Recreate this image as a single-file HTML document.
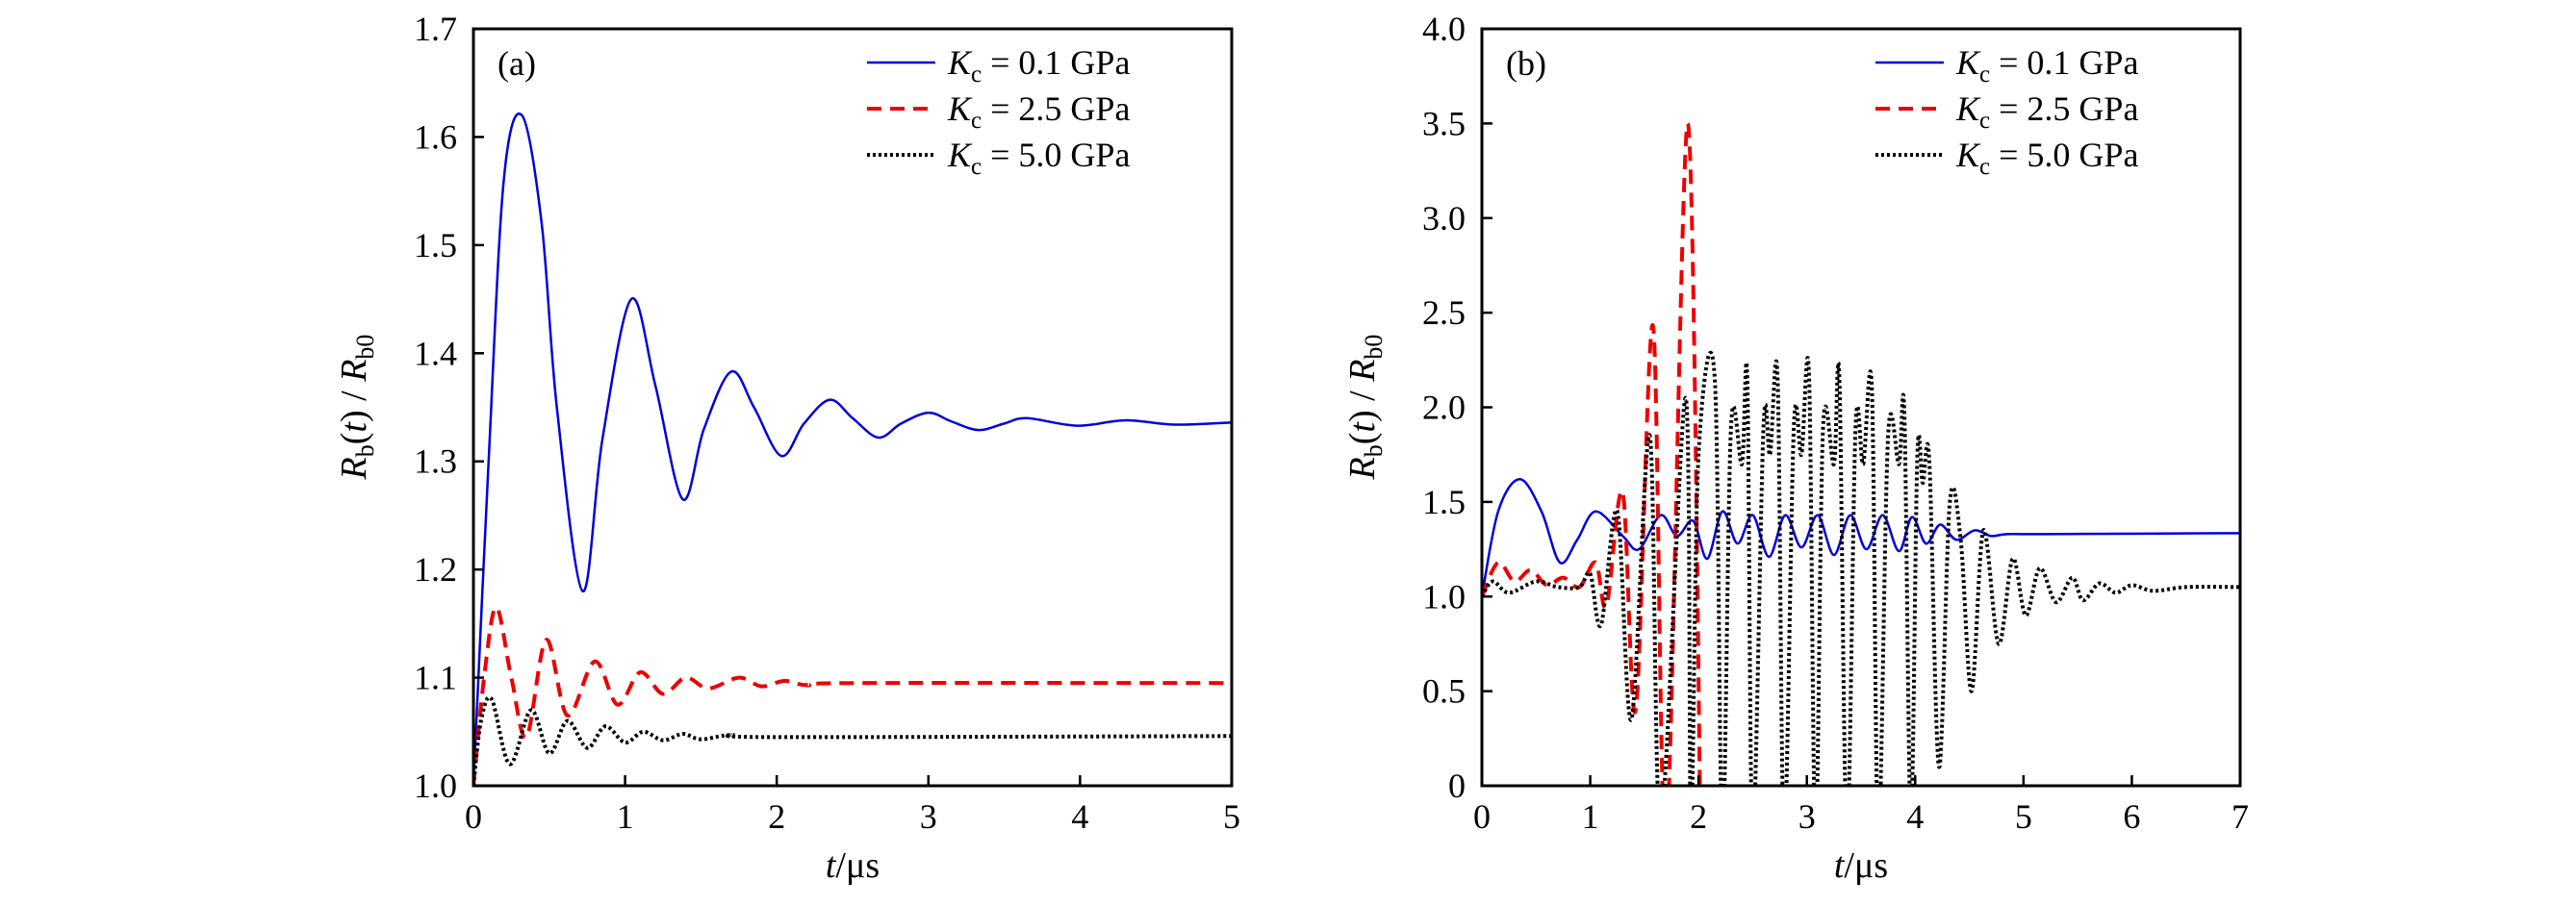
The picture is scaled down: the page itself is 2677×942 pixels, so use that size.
<!DOCTYPE html>
<html>
<head>
<meta charset="utf-8">
<style>
  html,body{margin:0;padding:0;background:#fff;}
  body{width:2677px;height:937px;overflow:hidden;font-family:"Liberation Serif","DejaVu Serif",serif;}
  svg, svg text, svg tspan{font-family:"Liberation Serif","DejaVu Serif",serif !important;}
</style>
</head>
<body>
<svg id="chart" width="2677" height="937" viewBox="0 0 2677 937" font-family="Liberation Serif, DejaVu Serif, serif" xmlns="http://www.w3.org/2000/svg">
  <defs>
    <clipPath id="clipA"><rect x="492" y="30" width="788" height="787"/></clipPath>
    <clipPath id="clipB"><rect x="1540" y="30" width="788" height="787"/></clipPath>
  </defs>
  <g id="panelA"></g>
  <g id="panelB"></g>
</svg>
<script>
// ---------- data: panel (a) ----------
const aXTicks = [0, 1, 2, 3, 4, 5];
const aYTicks = [1.0, 1.1, 1.2, 1.3, 1.4, 1.5, 1.6, 1.7];
const aYTickLabels = ["1.0","1.1","1.2","1.3","1.4","1.5","1.6","1.7"];
const aBlueT = [0,0.1,0.2,0.32,0.45,0.55,0.72,0.85,1.04,1.2,1.38,1.52,1.7,1.85,2.03,2.18,2.35,2.5,2.67,2.82,3.0,3.15,3.33,3.5,3.65,3.98,4.3,4.62,5];
const aBlueY = [1.0,1.3,1.56,1.62,1.52,1.35,1.18,1.32,1.45,1.37,1.265,1.33,1.383,1.35,1.305,1.335,1.357,1.34,1.322,1.335,1.345,1.337,1.329,1.335,1.34,1.333,1.338,1.334,1.336];
const aRedT = [0,0.07,0.15,0.25,0.35,0.48,0.62,0.8,0.95,1.1,1.25,1.4,1.55,1.75,1.9,2.05,2.2,2.5,5];
const aRedY = [1.0,1.1,1.165,1.1,1.045,1.135,1.065,1.115,1.075,1.105,1.085,1.1,1.09,1.1,1.092,1.097,1.093,1.095,1.095];
const aBlackT = [0,0.05,0.12,0.24,0.38,0.5,0.62,0.75,0.87,1.0,1.12,1.25,1.38,1.5,1.7,2.0,5];
const aBlackY = [1.0,1.06,1.08,1.02,1.07,1.03,1.06,1.035,1.055,1.04,1.05,1.042,1.048,1.043,1.047,1.045,1.046];

// ---------- data: panel (b) ----------
const bXTicks = [0, 1, 2, 3, 4, 5, 6, 7];
const bYTicks = [0, 0.5, 1.0, 1.5, 2.0, 2.5, 3.0, 3.5, 4.0];
const bYTickLabels = ["0","0.5","1.0","1.5","2.0","2.5","3.0","3.5","4.0"];
const bBlueT = [0,0.15,0.35,0.55,0.72,0.88,1.05,1.3,1.45,1.65,1.8,1.95,2.08,2.22,2.36,2.5,2.65,2.8,2.95,3.1,3.25,3.4,3.55,3.7,3.85,3.97,4.1,4.23,4.38,4.55,4.7,4.85,5.2,7];
const bBlueY = [1.0,1.45,1.62,1.45,1.18,1.3,1.45,1.32,1.25,1.43,1.32,1.4,1.2,1.45,1.28,1.43,1.21,1.43,1.26,1.43,1.22,1.43,1.25,1.43,1.24,1.42,1.28,1.38,1.3,1.35,1.32,1.33,1.33,1.335];
const bRedT = [0,0.15,0.3,0.45,0.6,0.75,0.9,1.05,1.15,1.3,1.42,1.58,1.7,1.9,2.02];
const bRedY = [1.0,1.18,1.08,1.14,1.06,1.1,1.05,1.18,0.95,1.55,0.4,2.43,-0.3,3.5,-0.3];
const bBlackT = [0,0.1,0.25,0.5,0.7,0.9,1.0,1.1,1.25,1.38,1.55,1.65,1.88,1.93,2.0,2.15,2.22,2.3,2.4,2.45,2.5,2.6,2.66,2.73,2.79,2.88,2.95,3.02,3.08,3.15,3.25,3.3,3.37,3.45,3.52,3.6,3.66,3.75,3.85,3.9,3.96,4.02,4.07,4.13,4.22,4.32,4.42,4.52,4.63,4.77,4.9,5.02,5.15,5.3,5.45,5.55,5.7,5.85,6.0,6.2,6.5,7];
const bBlackY = [1.0,1.08,1.02,1.08,1.05,1.05,1.12,0.85,1.45,0.35,1.85,-0.2,2.05,-0.2,1.75,2.15,-0.3,1.9,1.7,2.15,-0.3,1.9,1.75,2.15,-0.3,1.9,1.75,2.17,-0.3,1.9,1.7,2.15,-0.3,1.9,1.7,2.1,-0.3,1.85,1.7,1.97,-0.2,1.75,1.6,1.72,0.1,1.5,1.3,0.5,1.35,0.75,1.2,0.9,1.15,0.97,1.1,0.98,1.07,1.02,1.06,1.03,1.05,1.05];

const NS = "http://www.w3.org/2000/svg";
const FONT = "Liberation Serif, DejaVu Serif, serif";
function mk(tag, attrs, parent){
  const e = document.createElementNS(NS, tag);
  for (const k in attrs) e.setAttribute(k, attrs[k]);
  parent.appendChild(e);
  return e;
}
function smoothPath(px, py){
  let d = "M" + px[0].toFixed(2) + "," + py[0].toFixed(2);
  for (let i = 0; i < px.length - 1; i++){
    const x0 = px[Math.max(i-1,0)], y0 = py[Math.max(i-1,0)];
    const x1 = px[i], y1 = py[i], x2 = px[i+1], y2 = py[i+1];
    const x3 = px[Math.min(i+2,px.length-1)], y3 = py[Math.min(i+2,px.length-1)];
    const c1x = x1 + (x2-x0)/6, c1y = y1 + (y2-y0)/6;
    const c2x = x2 - (x3-x1)/6, c2y = y2 - (y3-y1)/6;
    d += " C" + c1x.toFixed(2)+","+c1y.toFixed(2)+" "+c2x.toFixed(2)+","+c2y.toFixed(2)+" "+x2.toFixed(2)+","+y2.toFixed(2);
  }
  return d;
}

function drawPanel(g, cfg){
  const L = cfg.left, R = cfg.left + 788, T = 30, B = 817;
  const sx = v => L + (v - cfg.xmin)/(cfg.xmax - cfg.xmin)*(R-L);
  const sy = v => B - (v - cfg.ymin)/(cfg.ymax - cfg.ymin)*(B-T);

  const sg = mk("g", {"clip-path": "url(#" + cfg.clip + ")"}, g);
  
  
  cfg.series.forEach(s => {
    const p = mk("path", {d: smoothPath(s.t.map(sx), s.y.map(sy)), fill:"none", stroke:s.color, "stroke-width":s.w, "stroke-dasharray":s.dash, "stroke-linejoin":"round"}, sg);
    
    
  });

  const fr = mk("rect", {x:L, y:T, width:R-L, height:B-T, fill:"none", stroke:"#000", "stroke-width":3}, g);
  
  

  cfg.xTicks.forEach(v => {
    const x = sx(v);
    const tk = mk("line", {x1:x, x2:x, y1:B, y2:B-11, stroke:"#000", "stroke-width":2.5}, g);
    
    
    const tl = mk("text", {x:x, y:861, "font-size":36, "text-anchor":"middle", "font-family":FONT}, g);
    
    
    tl.textContent = String(v);
  });
  cfg.yTicks.forEach((v, i) => {
    const y = sy(v);
    const tk = mk("line", {x1:L, x2:L+11, y1:y, y2:y, stroke:"#000", "stroke-width":2.5}, g);
    
    
    const tl = mk("text", {x:L-17, y:y+12, "font-size":36, "text-anchor":"end", "font-family":FONT}, g);
    
    
    tl.textContent = cfg.yTickLabels[i];
  });

  const xt = mk("text", {x:(L+R)/2, y:912, "font-size":38, "text-anchor":"middle", "font-family":FONT}, g);
  
  
  xt.innerHTML = '<tspan font-style="italic">t</tspan>/μs';
  const cy = 423, cx = L - 112;
  const yt = mk("text", {x:cx, y:cy, "font-size":38, "text-anchor":"middle", "font-family":FONT, transform:"rotate(-90 "+cx+" "+cy+")"}, g);
  
  
  yt.innerHTML = '<tspan font-style="italic">R</tspan><tspan font-size="26" dy="8">b</tspan><tspan dy="-8">(</tspan><tspan font-style="italic">t</tspan>) / <tspan font-style="italic">R</tspan><tspan font-size="26" dy="8">b0</tspan>';

  const pl = mk("text", {x:L+25, y:78, "font-size":36, "font-family":FONT}, g);
  
  
  pl.textContent = cfg.label;

  const lg = mk("g", {}, g);
  
  
  const rows = [65, 113, 161];
  const labels = ["0.1", "2.5", "5.0"];
  cfg.series.forEach((s, i) => {
    const ln = mk("line", {x1:L+409, x2:L+480, y1:rows[i], y2:rows[i], stroke:s.color, "stroke-width":s.w, "stroke-dasharray":s.dash}, lg);
    
    
    const tx = mk("text", {x:L+493, y:rows[i]+12, "font-size":36, "font-family":FONT}, lg);
    
    
    tx.innerHTML = '<tspan font-style="italic">K</tspan><tspan font-size="25" dy="8">c</tspan><tspan dy="-8"> = ' + labels[i] + '  GPa</tspan>';
  });
}

const styles = [
  {color:"#0000dd", w:2.5, dash:"none"},
  {color:"#ee0000", w:4, dash:"15 9"},
  {color:"#000000", w:4, dash:"3 3"}
];

drawPanel(document.getElementById("panelA"), {
  left:492, xmin:0, xmax:5, ymin:1.0, ymax:1.7, clip:"clipA", label:"(a)",
  xTicks:aXTicks, yTicks:aYTicks, yTickLabels:aYTickLabels,
  series:[
    Object.assign({name:"series-kc-0.1", t:aBlueT, y:aBlueY}, styles[0]),
    Object.assign({name:"series-kc-2.5", t:aRedT, y:aRedY}, styles[1]),
    Object.assign({name:"series-kc-5.0", t:aBlackT, y:aBlackY}, styles[2])
  ]
});
drawPanel(document.getElementById("panelB"), {
  left:1540, xmin:0, xmax:7, ymin:0, ymax:4, clip:"clipB", label:"(b)",
  xTicks:bXTicks, yTicks:bYTicks, yTickLabels:bYTickLabels,
  series:[
    Object.assign({name:"series-kc-0.1", t:bBlueT, y:bBlueY}, styles[0]),
    Object.assign({name:"series-kc-2.5", t:bRedT, y:bRedY}, styles[1]),
    Object.assign({name:"series-kc-5.0", t:bBlackT, y:bBlackY}, styles[2])
  ]
});
</script>
</body>
</html>
